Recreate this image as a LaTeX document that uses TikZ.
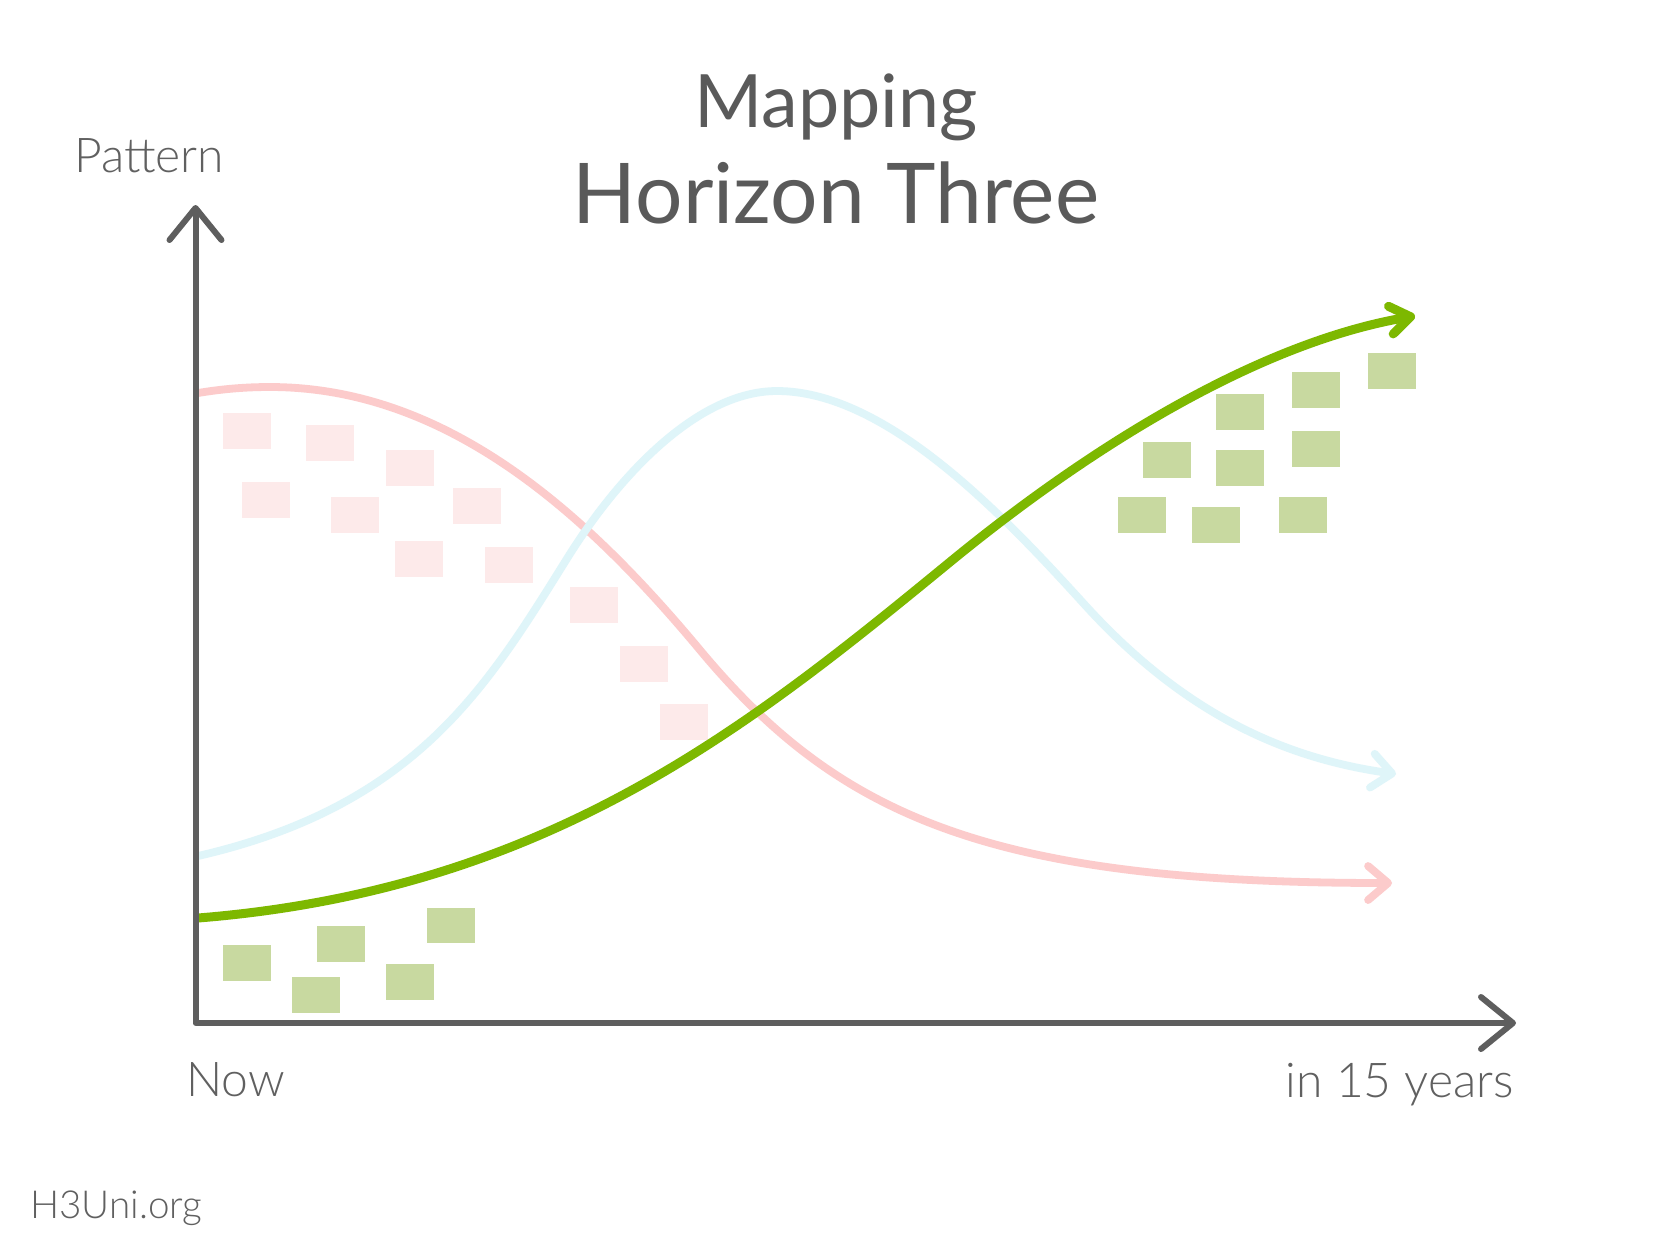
\documentclass[tikz,border=0pt]{standalone}
\usepackage{fontspec}
\usetikzlibrary{arrows.meta}
\setmainfont{Lato}
\newfontfamily\lightfont{Lato Light}
\definecolor{axisgray}{HTML}{5E5E5E}
\definecolor{titlegray}{HTML}{5A5A5A}
\definecolor{labelgray}{HTML}{606060}
\definecolor{curvered}{HTML}{FCCBCB}
\definecolor{curveblue}{HTML}{DFF5F9}
\definecolor{curvegreen}{HTML}{7DB800}
\definecolor{cardpink}{HTML}{FDEAEA}
\definecolor{cardgreen}{HTML}{C8D9A0}
\tikzset{
  axisline/.style={draw=axisgray, line width=3pt, line join=round,
    {Straight Barb[length=16pt,width=26pt,round]}-{Straight Barb[length=16pt,width=26pt,round]}},
  redcurve/.style={draw=curvered, line width=3.9pt, -{Straight Barb[length=10pt,width=17pt,round]}},
  bluecurve/.style={draw=curveblue, line width=3.9pt, -{Straight Barb[length=10pt,width=17pt,round]}},
  greencurve/.style={draw=curvegreen, line width=4.5pt, -{Straight Barb[length=10pt,width=14pt,round]}},
  pinkcard/.style={fill=cardpink, inner sep=0pt, minimum width=24pt, minimum height=17.75pt, anchor=north west},
  greencard/.style={fill=cardgreen, inner sep=0pt, minimum width=24pt, minimum height=17.75pt, anchor=north west},
  titletext/.style={text=titlegray, inner sep=0pt, anchor=base},
  labeltext/.style={text=labelgray, inner sep=0pt, font=\lightfont\fontsize{24}{28}\selectfont},
}
\begin{document}
\begin{tikzpicture}[x=0.5pt,y=-0.5pt]
\useasboundingbox (0,0) rectangle (1667,1250);
\fill[white] (0,0) rectangle (1667,1250);

% titles
\node[titletext, font=\fontsize{36.8}{44}\selectfont] (t1) at (836,127) {Mapping};
\node[titletext, font=\fontsize{41.9}{48}\selectfont] (t2) at (836,223) {Horizon Three};

% labels
\node[labeltext, anchor=base west] (ylab) at (74,172) {Pattern};
\node[labeltext, anchor=base west] (now) at (186,1096) {Now};
\node[labeltext, anchor=base east] (later) at (1514,1097) {in 15 years};
\node[text=labelgray, inner sep=0pt, anchor=base west, font=\lightfont\fontsize{19.3}{23}\selectfont] (site) at (30,1218) {H3Uni.org};

% pink cards
\node[pinkcard] (p1) at (223,413) {};
\node[pinkcard] (p2) at (306,425) {};
\node[pinkcard] (p3) at (386,450) {};
\node[pinkcard] (p4) at (241.5,482) {};
\node[pinkcard] (p5) at (331,497) {};
\node[pinkcard] (p6) at (453,488) {};
\node[pinkcard] (p7) at (395,541) {};
\node[pinkcard] (p8) at (485,547) {};
\node[pinkcard] (p9) at (570,587) {};
\node[pinkcard] (p10) at (620,646) {};
\node[pinkcard] (p11) at (660,704) {};

% green cards, top right
\node[greencard] (g1) at (1118,497) {};
\node[greencard] (g2) at (1192,507) {};
\node[greencard] (g3) at (1279,497) {};
\node[greencard] (g4) at (1143,442) {};
\node[greencard] (g5) at (1216,450) {};
\node[greencard] (g6) at (1292,431) {};
\node[greencard] (g7) at (1216,394) {};
\node[greencard] (g8) at (1292,372) {};
\node[greencard] (g9) at (1368,353) {};
% green cards, bottom left
\node[greencard] (g10) at (223,945) {};
\node[greencard] (g11) at (317,926) {};
\node[greencard] (g12) at (292,977) {};
\node[greencard] (g13) at (427,907.5) {};
\node[greencard] (g14) at (386,964) {};

% curve end points
\coordinate (r0) at (198,393);
\coordinate (r1) at (1392,883);
\coordinate (b0) at (198,856);
\coordinate (b1) at (1396,774);
\coordinate (gr0) at (198,918);
\coordinate (gr1) at (1415,316);

% curves
\draw[redcurve] (r0) .. controls (222,389) and (245,387) .. (270,387)
  .. controls (450,387) and (590,518) .. (700,650)
  .. controls (840,818) and (992,883) .. (r1);
\draw[bluecurve] (b0) .. controls (418,805.4) and (488,685) .. (568,557)
  .. controls (618,477) and (697,391) .. (777,391)
  .. controls (887,391) and (1005,517) .. (1085,605)
  .. controls (1185,715) and (1286,758.6) .. (b1);
\draw[greencurve] (gr0) .. controls (548,890) and (750,726) .. (950,562)
  .. controls (1100,439) and (1265,341.5) .. (gr1);

% axes
\coordinate (ytop) at (195.5,205);
\coordinate (origin) at (195.5,1023);
\coordinate (xend) at (1516,1023);
\draw[axisline] (ytop) -- (origin) -- (xend);
\end{tikzpicture}
\end{document}
